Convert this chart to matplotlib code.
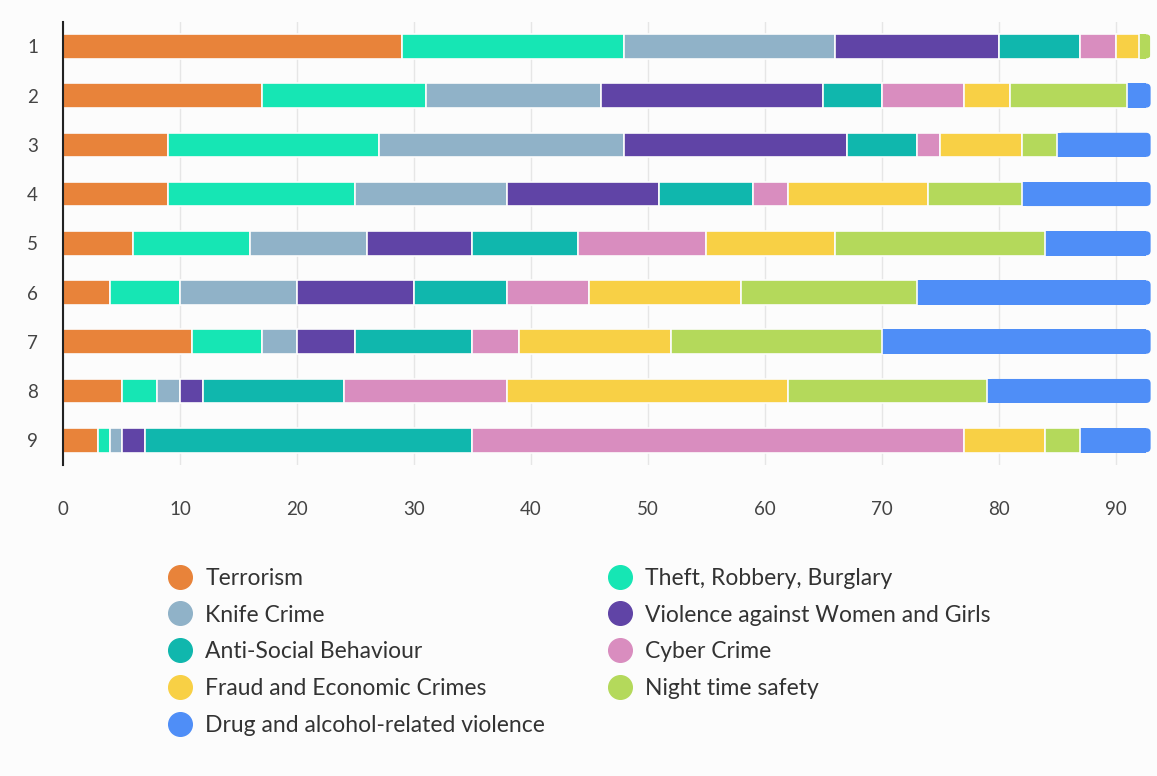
import numpy as np
import matplotlib.pyplot as plt
from matplotlib.lines import Line2D
from matplotlib.patches import FancyBboxPatch

plt.rcParams['font.family'] = ['Lato', 'DejaVu Sans']

rows = ['1', '2', '3', '4', '5', '6', '7', '8', '9']
categories = ['Terrorism', 'Theft, Robbery, Burglary', 'Knife Crime',
              'Violence against Women and Girls', 'Anti-Social Behaviour',
              'Cyber Crime', 'Fraud and Economic Crimes', 'Night time safety',
              'Drug and alcohol-related violence']
colors = ['#e8833a', '#16e6b4', '#90b2c8', '#6044a6', '#10b7ad',
          '#d98dbf', '#f8d045', '#b4d95b', '#4f8ef7']

terrorism = [29, 17, 9, 9, 6, 4, 11, 5, 3]
theft = [19, 14, 18, 16, 10, 6, 6, 3, 1]
knife = [18, 15, 21, 13, 10, 10, 3, 2, 1]
violence = [14, 19, 19, 13, 9, 10, 5, 2, 2]
anti_social = [7, 5, 6, 8, 9, 8, 10, 12, 28]
cyber = [3, 7, 2, 3, 11, 7, 4, 14, 42]
fraud = [2, 4, 7, 12, 11, 13, 13, 24, 7]
night = [1, 10, 3, 8, 18, 15, 18, 17, 3]
drug = [0, 2, 8, 11, 9, 20, 23, 14, 6]

series = [terrorism, theft, knife, violence, anti_social, cyber, fraud, night, drug]

bg = '#fcfcfc'
bar_h = 0.5
fig = plt.figure(figsize=(11.57, 7.76), dpi=100, facecolor=bg)
ax = fig.add_axes([0.0545, 0.401, 0.942, 0.571], facecolor=bg)

y = np.arange(len(rows))
left = np.zeros(len(rows))
containers = []
for vals, col in zip(series, colors):
    vals = np.array(vals, dtype=float)
    bars = ax.barh(y, vals, left=left, height=bar_h, color=col,
                   edgecolor=bg, linewidth=1.2, zorder=3)
    containers.append(bars)
    left += vals

ax.set_xlim(0, 93.2)
ax.set_ylim(len(rows) - 0.5, -0.5)

# round the right end of every bar: last non-empty segment keeps a square
# left side, a rounded box underneath gives the right corners
rx = 0.38                      # rounding in x data units (~4.5 px)
aspect = (4.5 / 49.2) / rx
for i in range(len(rows)):
    k = max(j for j in range(len(series)) if series[j][i] > 0)
    p = containers[k][i]
    x0, y0, w, h = p.get_x(), p.get_y(), p.get_width(), p.get_height()
    p.set_edgecolor('none')
    p.set_width(max(w - rx, 0.05))
    p.set_zorder(2.95)
    ax.add_patch(FancyBboxPatch((x0 + 0.05, y0 + 0.006), w - 0.05, h - 0.012,
                                boxstyle=f'round,pad=0,rounding_size={rx}',
                                mutation_aspect=aspect, facecolor=colors[k],
                                edgecolor='none', zorder=2.9))

ax.set_yticks(y)
ax.set_yticklabels(rows)
ax.set_xticks(np.arange(0, 91, 10))
ax.grid(axis='x', color='#e6e6e6', linewidth=1, zorder=0)
for s in ['top', 'right', 'bottom']:
    ax.spines[s].set_visible(False)
ax.spines['left'].set_color('#222222')
ax.spines['left'].set_linewidth(1.5)
ax.spines['left'].set_zorder(5)
ax.tick_params(axis='both', length=0, labelsize=13.5, labelcolor='#444444')
ax.tick_params(axis='x', pad=26)
ax.tick_params(axis='y', pad=18)

# legend, filled row by row in the reference -> reorder for column filling
order = [0, 2, 4, 6, 8, 1, 3, 5, 7]
handles = [Line2D([], [], marker='o', linestyle='none', markersize=17,
                  markerfacecolor=colors[i], markeredgecolor=colors[i])
           for i in order]
labels = [categories[i] for i in order]
fig.legend(handles, labels, ncol=2, loc='upper left',
           bbox_to_anchor=(0.128, 0.295), frameon=False,
           fontsize=16.5, labelcolor='#333333', handlelength=1.0,
           handletextpad=0.6, labelspacing=0.69, columnspacing=2.75)

plt.savefig('out.png', dpi=100, facecolor=bg)
